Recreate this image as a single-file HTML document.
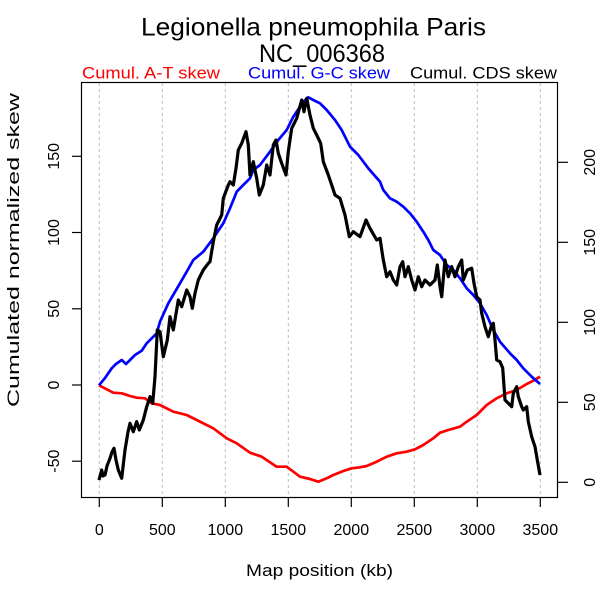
<!DOCTYPE html>
<html>
<head>
<meta charset="utf-8">
<style>
html,body{margin:0;padding:0;background:#fff;}
svg{display:block;}
text{font-family:"Liberation Sans",Arial,sans-serif;}
</style>
</head>
<body>
<svg width="600" height="600" viewBox="0 0 600 600" xmlns="http://www.w3.org/2000/svg">
<rect width="600" height="600" fill="#fff"/>
<!-- grid -->
<g stroke="#bdbdbd" stroke-width="1" stroke-dasharray="3,3">
<line x1="99.3" y1="83" x2="99.3" y2="497"/>
<line x1="162.3" y1="83" x2="162.3" y2="497"/>
<line x1="225.3" y1="83" x2="225.3" y2="497"/>
<line x1="288.3" y1="83" x2="288.3" y2="497"/>
<line x1="351.3" y1="83" x2="351.3" y2="497"/>
<line x1="414.3" y1="83" x2="414.3" y2="497"/>
<line x1="477.3" y1="83" x2="477.3" y2="497"/>
<line x1="540.3" y1="83" x2="540.3" y2="497"/>
</g>
<!-- series -->
<polyline fill="none" stroke="#ff0000" stroke-width="2.7" stroke-linejoin="round" points="99,385.3 113.3,392.7 121.7,393.3 130,396 136.7,397.7 145,398.3 151.7,403.3 160,405 173.3,411.7 186.7,415 196.7,420 213.3,428.3 226.7,438.3 236.7,443.3 250,452.7 261.7,456.7 276.7,466.7 286.7,466.7 300,476.7 310,479 318.3,481.7 326.7,478.3 333.3,475 343.3,471 351.7,468.3 360,467.3 366.7,466 376.7,461.7 386.7,456.7 396.7,453.3 406.7,451.7 415,449.3 423.3,445 433.3,438.3 440,432.7 448.3,430 460,426.7 466.7,421.7 476.7,415 486.7,405 496.7,398.3 506.7,393.3 516.7,390 526.7,384 533.3,380.7 540,376.7"/>
<polyline fill="none" stroke="#0000ff" stroke-width="2.7" stroke-linejoin="round" points="99,385.3 105,378 111.7,368.3 116,364 121.7,360 126,364 130,360 135,355 141.7,350.7 146.7,343.3 156.7,333.3 160,321.7 168.3,303.3 180,283.3 186.7,271.7 193.3,260 203.3,251.7 213.3,238.3 223.3,223.3 230,208.3 236.7,191.7 243.3,185 250,178.3 253.3,170 260,165 270,151.7 278.3,140 286.7,130 293.3,116.7 303.3,101.7 308.3,97.3 313.3,100 320,103.3 326.7,110 335,120 341.7,130 350,146.7 358.3,155 368.3,168.3 380,181.7 383.3,190 390,198.3 396.7,201.7 403.3,206.7 410,213.3 416.7,221.7 423.3,231.7 428.3,240 433.3,250 440,255 446.7,265 453.3,270 460,278.3 466.7,288.3 473.3,295 480,303.3 486.7,315 493.3,330 500,341.7 510,353.3 516.7,360 523.3,368.3 531.7,376.7 540,384"/>
<polyline fill="none" stroke="#000000" stroke-width="3.2" stroke-linejoin="round" points="99,480 101.7,470 103,476 105,475 107,466 110,458.3 112,452 114,448.3 116,460 118.3,470 121.7,478.3 125,450 128,432 130,423.3 133.3,431.7 136.7,421.7 139.3,430 143.3,420 146.7,406.7 150,396.7 152.7,403.3 155,376.7 157.3,330 160,331.7 163.3,356.7 167.3,340 170,316.7 173.3,330 178.3,300 181.7,306.7 186.7,290 190,296.7 192.3,308.3 195,293.3 198.3,280 203.3,270 208.3,263.3 210,261.7 213.3,241.7 216.7,225 221.7,215 223.3,198.3 228.3,185 230,181.7 233.3,185 236,168.3 238.3,150 241.7,143.3 246,131.7 248.3,145 250,175 253.3,161.7 256.7,178.3 259.3,195 263.3,185 266.7,165 270,175 273.3,145 276,140 278.3,153.3 281.7,163.3 286,175 288.3,151.7 291.7,128.3 296.7,118.3 301.7,100 304,111.7 306.7,98.3 310,115 313.3,128.3 316.7,135 320.7,143.3 323.3,161.7 328.3,175 331.7,185 335,195 340,198.3 345,215 349.3,236.7 353.3,231.7 360,236.7 366,220 370,228.3 376.7,240 380,238.3 383.3,260 386.7,276.7 390,271.7 393.3,280 396.7,285 400,266.7 402.7,261.7 405,276.7 408.3,266.7 411.7,280 415,290 418.3,276.7 421.7,286.7 425,280 430,285 435,280 437.3,265 440,286.7 441.7,296.7 445,260 448.3,276.7 451.7,266.7 455,276.7 458.3,266.7 461.7,260 463.3,280 467.3,270 471.7,268.3 474,283.3 476.7,296.7 480,300 481.7,313.3 485,326.7 488.3,336.7 491.7,325 493.3,323.3 495,340 496.7,360 500,361.7 502.7,368 505,400 508.3,403.3 511.7,406.7 513.3,393.3 516.7,386.7 518.3,396.7 521.7,406.7 523.3,410 526.7,406.7 528.3,421.7 531.7,436.7 535,446.7 537.3,460 540,475"/>
<!-- box -->
<rect x="81.5" y="82.5" width="476" height="415" fill="none" stroke="#000" stroke-width="1.2"/>
<!-- ticks -->
<g stroke="#000" stroke-width="1.2">
<line x1="99.3" y1="497.5" x2="99.3" y2="507"/>
<line x1="162.3" y1="497.5" x2="162.3" y2="507"/>
<line x1="225.3" y1="497.5" x2="225.3" y2="507"/>
<line x1="288.3" y1="497.5" x2="288.3" y2="507"/>
<line x1="351.3" y1="497.5" x2="351.3" y2="507"/>
<line x1="414.3" y1="497.5" x2="414.3" y2="507"/>
<line x1="477.3" y1="497.5" x2="477.3" y2="507"/>
<line x1="540.3" y1="497.5" x2="540.3" y2="507"/>
<line x1="72" y1="461.2" x2="81.5" y2="461.2"/>
<line x1="72" y1="385" x2="81.5" y2="385"/>
<line x1="72" y1="308.8" x2="81.5" y2="308.8"/>
<line x1="72" y1="232.5" x2="81.5" y2="232.5"/>
<line x1="72" y1="156.3" x2="81.5" y2="156.3"/>
<line x1="557.5" y1="482.3" x2="568" y2="482.3"/>
<line x1="557.5" y1="402.3" x2="568" y2="402.3"/>
<line x1="557.5" y1="322.3" x2="568" y2="322.3"/>
<line x1="557.5" y1="242.3" x2="568" y2="242.3"/>
<line x1="557.5" y1="162.3" x2="568" y2="162.3"/>
</g>
<!-- x tick labels -->
<g font-size="16" text-anchor="middle" fill="#000">
<text x="99.3" y="535">0</text>
<text x="162.3" y="535">500</text>
<text x="225.3" y="535">1000</text>
<text x="288.3" y="535">1500</text>
<text x="351.3" y="535">2000</text>
<text x="414.3" y="535">2500</text>
<text x="477.3" y="535">3000</text>
<text x="540.3" y="535">3500</text>
</g>
<!-- left tick labels -->
<g font-size="16" text-anchor="middle" fill="#000">
<text transform="translate(59,461.2) rotate(-90)">-50</text>
<text transform="translate(59,385) rotate(-90)">0</text>
<text transform="translate(59,308.8) rotate(-90)">50</text>
<text transform="translate(59,232.5) rotate(-90)">100</text>
<text transform="translate(59,156.3) rotate(-90)">150</text>
</g>
<!-- right tick labels -->
<g font-size="16" text-anchor="middle" fill="#000">
<text transform="translate(595,482.3) rotate(-90)">0</text>
<text transform="translate(595,402.3) rotate(-90)">50</text>
<text transform="translate(595,322.3) rotate(-90)">100</text>
<text transform="translate(595,242.3) rotate(-90)">150</text>
<text transform="translate(595,162.3) rotate(-90)">200</text>
</g>
<!-- axis titles -->
<text x="246" y="576" font-size="17" textLength="147" lengthAdjust="spacingAndGlyphs" fill="#000">Map position (kb)</text>
<text transform="translate(19,407) rotate(-90)" font-size="17" textLength="314" lengthAdjust="spacingAndGlyphs" fill="#000">Cumulated normalized skew</text>
<!-- title -->
<text x="141" y="35.7" font-size="25" textLength="345" lengthAdjust="spacingAndGlyphs" fill="#000">Legionella pneumophila Paris</text>
<text x="259" y="62" font-size="25" textLength="126" lengthAdjust="spacingAndGlyphs" fill="#000">NC_006368</text>
<!-- legend -->
<text x="82" y="78.5" font-size="17" textLength="138" lengthAdjust="spacingAndGlyphs" fill="#ff0000">Cumul. A-T skew</text>
<text x="248" y="78.5" font-size="17" textLength="142" lengthAdjust="spacingAndGlyphs" fill="#0000ff">Cumul. G-C skew</text>
<text x="410" y="78.5" font-size="17" textLength="147" lengthAdjust="spacingAndGlyphs" fill="#000">Cumul. CDS skew</text>
</svg>
</body>
</html>
